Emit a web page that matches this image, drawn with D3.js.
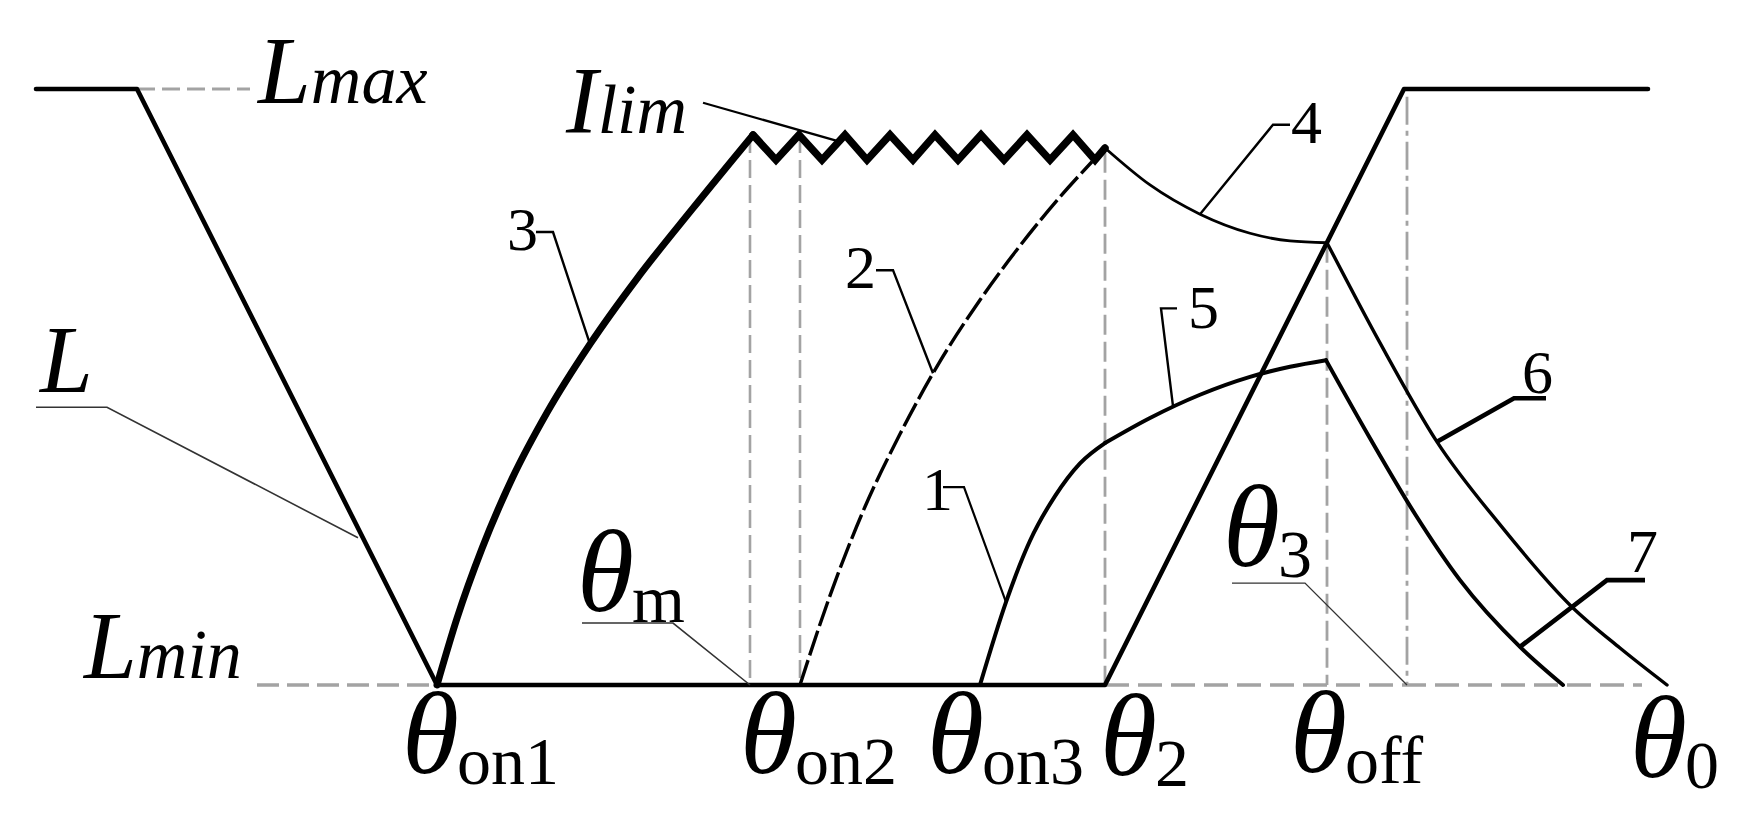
<!DOCTYPE html>
<html><head><meta charset="utf-8">
<script src="https://cdn.jsdelivr.net/npm/d3@7"></script>
<style>
body{margin:0;background:#fff}
svg{display:block;background:#fff}
text{font-family:"Liberation Serif","Times New Roman",serif;fill:#000}
</style>
</head><body>
<svg id="c" width="1741" height="823"></svg>
<script>
// ---- data (angle units, inductance/current units: Lmin=0, Lmax=100) ----
const inductanceProfile = [[3.6,100],[13.7,100],[43.7,0],[110.5,0],[140.4,100],[164.8,100]];
const curve3 = [[43.7,0],[45.7,11.2],[48.2,22.9],[51.2,34.6],[54.7,45.7],[59.0,57.2],[63.7,68.2],[69.2,79.8],[75.3,92.3]];
const chopPeaksX   = [75.3,79.9,84.5,89.0,93.5,98.1,102.7,107.3];
const chopValleysX = [77.6,82.2,86.7,91.3,95.8,100.4,105.0,109.5];
const chopLevels = {peak:92.3, valley:88.1, end:90.1};
const chopEndX = 110.5;
const curve2 = [[80.0,0],[83.0,15.0],[86.5,29.9],[90.0,42.1],[94.0,54.3],[98.0,64.6],[102.0,73.7],[106.0,81.9],[109.2,87.8]];
const curve1 = [[98.0,0],[100.6,13.9],[103.0,24.2],[105.5,31.7],[108.0,37.2],[110.5,40.6]];
const curve5 = [[110.5,40.6],[115.0,44.8],[120.0,48.7],[125.0,51.7],[129.0,53.4],[132.6,54.5]];
const curve4 = [[110.5,90.1],[115.0,83.9],[120.0,79.0],[125.0,75.8],[129.0,74.5],[132.7,74.2]];
const curve6 = [[132.7,74.2],[138.0,57.4],[143.7,40.8],[150.0,26.9],[157.2,13.1],[162.0,6.2],[166.7,0]];
const curve7 = [[132.6,54.5],[137.0,41.4],[141.5,28.7],[146.0,17.6],[152.0,6.4],[156.3,0]];
const angleMarks = {thetaM:75.0, thetaOn2:80.0, theta2:110.5, thetaOff:132.7, theta3:140.7};

// ---- scales ----
const x = d3.scaleLinear().domain([0,174.1]).range([0,1741]);
const y = d3.scaleLinear().domain([0,100]).range([685,89]);
const svg = d3.select('#c');
const lin = d3.line().x(d=>x(d[0])).y(d=>y(d[1]));
const smooth = d3.line().x(d=>x(d[0])).y(d=>y(d[1])).curve(d3.curveMonotoneX);

function path(g, d, w, col, dash){
  const p = svg.append('path').attr('d', g(d)).attr('fill','none')
    .attr('stroke', col||'#000').attr('stroke-width', w)
    .attr('stroke-linejoin','round').attr('stroke-linecap', dash?'butt':'round');
  if(dash) p.attr('stroke-dasharray', dash);
  return p;
}
const gray = '#a3a3a3';
// gray reference lines
path(lin, [[13.7,100],[25.0,100]], 3, gray, '18,7');
path(lin, [[25.7,0],[43.7,0]], 3.3, gray, '22,8');
path(lin, [[110.5,0],[164.2,0]], 3.3, gray, '24,9');
path(lin, [[angleMarks.thetaM,chopLevels.peak],[angleMarks.thetaM,0]], 2.6, gray, '18,7');
path(lin, [[angleMarks.thetaOn2,chopLevels.peak],[angleMarks.thetaOn2,0]], 2.6, gray, '18,7');
path(lin, [[angleMarks.theta2,89.3],[angleMarks.theta2,0]], 2.8, gray, '20,7');
path(lin, [[angleMarks.thetaOff,74.2],[angleMarks.thetaOff,0]], 2.8, gray, '20,7');
path(lin, [[angleMarks.theta3,98.7],[angleMarks.theta3,0]], 2.8, gray, '28,6,5,6');

// inductance profile
path(lin, inductanceProfile, 4.6, '#000');
// chopping current
const chop = [];
chopPeaksX.forEach((px,i)=>{ chop.push([px,chopLevels.peak]); chop.push([chopValleysX[i],chopLevels.valley]); });
chop.push([chopEndX,chopLevels.end]);
path(smooth, curve3, 7, '#000');
path(lin, chop, 7.5, '#000').attr('stroke-linejoin','miter');
path(smooth, curve2, 3.4, '#000', '26,5');
path(smooth, curve1, 4, '#000');
path(smooth, curve5, 4, '#000');
path(smooth, curve4, 2.8, '#000');
path(smooth, curve6, 3.4, '#000');
path(smooth, curve7, 4, '#000');

// ---- annotations ----
const P = (u,v)=>[u,v];
function leader(pts, w, col){ path(lin, pts, w, col||'#000').attr('stroke-linecap','butt').attr('stroke-linejoin','miter'); }
leader([P(3.6,46.6),P(10.7,46.6),P(35.8,24.7)], 1.6, '#333');
leader([P(58.2,10.4),P(67.3,10.4),P(75.0,0)], 1.6, '#333');
leader([P(123.2,17.1),P(130.5,17.1),P(140.7,0)], 1.4, '#333');
leader([P(70.3,97.7),P(83.7,91.3)], 2.2);
leader([P(53.6,76.0),P(55.3,76.0),P(59.0,57.2)], 2.4);
leader([P(87.6,69.6),P(89.3,69.6),P(93.3,52.3)], 2.4);
leader([P(94.3,33.2),P(96.4,33.2),P(100.6,13.9)], 2.2);
leader([P(117.7,63.2),P(116.1,63.2),P(117.3,46.8)], 2.4);
leader([P(120.0,79.0),P(127.3,94.0),P(129.0,94.0)], 2.4);
leader([P(143.7,40.8),P(151.4,48.1),P(154.6,48.1)], 4.6);
leader([P(152.0,6.4),P(160.7,17.6),P(164.5,17.6)], 4.6);

function label(px, py, parts){
  const t = svg.append('text').attr('x',px).attr('y',py);
  parts.forEach(p=>{
    const s = t.append('tspan').text(p.t).attr('font-size',p.s);
    if(p.i) s.attr('font-style','italic');
  });
  return t;
}
const TH=116, SUB=68, BIGL=95, LOW=70, NUM=62;
function theta(px, py, sub){
  svg.append('text').attr('x',px).attr('y',py).attr('font-size',TH).attr('font-style','italic').text('θ');
  svg.append('text').attr('x',px+55).attr('y',py+11).attr('font-size',SUB).text(sub);
}
label(258,103,[{t:'L',s:BIGL,i:1},{t:'max',s:LOW,i:1}]);
label(84,678,[{t:'L',s:BIGL,i:1},{t:'min',s:LOW,i:1}]);
label(40,392,[{t:'L',s:BIGL,i:1}]);
label(566,133,[{t:'I',s:BIGL,i:1},{t:'lim',s:LOW,i:1}]);
theta(402,773,'on1');
theta(740,773,'on2');
theta(927,773,'on3');
theta(1100,775,'2');
theta(1290,772,'off');
theta(1630,777,'0');
theta(577,611,'m');
theta(1223,566,'3');
[['1',922,510],['2',845,288],['3',507,250],['4',1291,143],['5',1188,328],['6',1522,393],['7',1627,572]]
  .forEach(d=>svg.append('text').attr('x',d[1]).attr('y',d[2]).attr('font-size',NUM).text(d[0]));
</script>
</body></html>
